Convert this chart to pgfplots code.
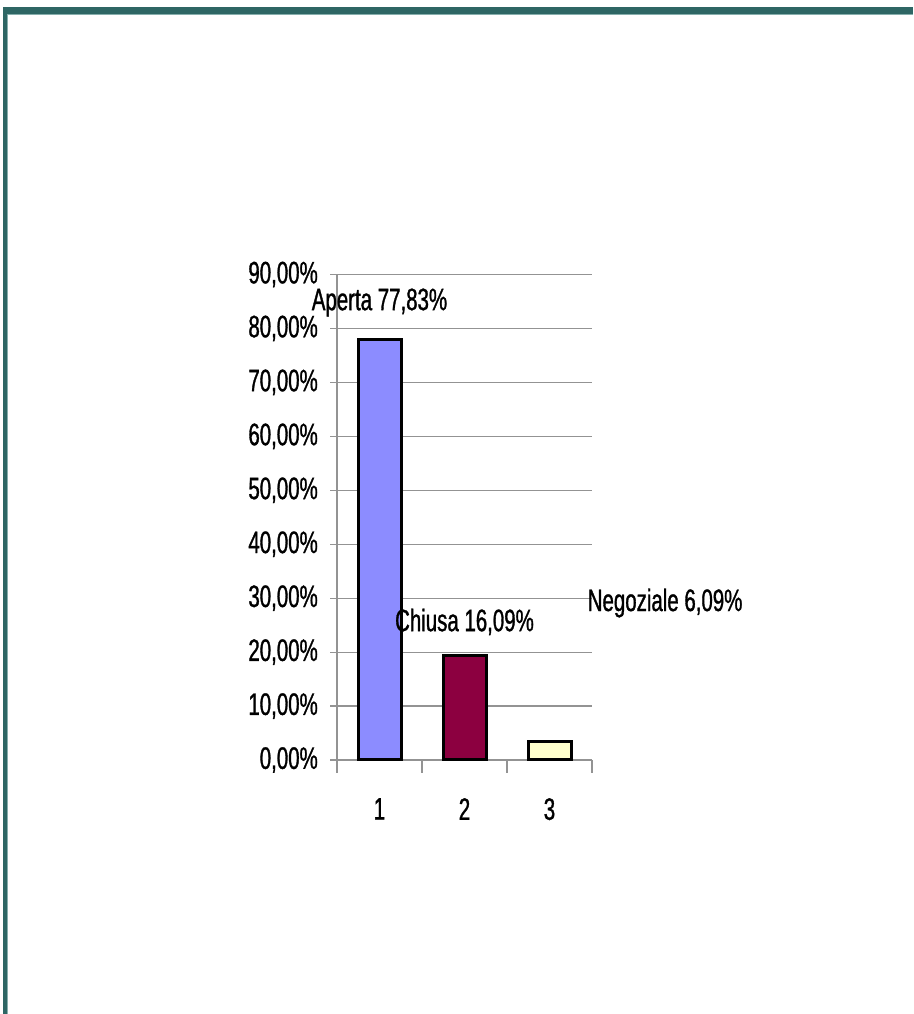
\documentclass[border=0pt]{standalone}
\usepackage{fontspec}
\setmainfont{Liberation Sans}[FakeStretch=0.66, FakeBold=1]
\usepackage{pgfplots}
\pgfplotsset{compat=1.18}
\definecolor{frame}{HTML}{2E6664}
\definecolor{framelight}{HTML}{86AEAC}
\definecolor{bara}{HTML}{8C8CFF}
\definecolor{barb}{HTML}{8C0040}
\definecolor{barc}{HTML}{FFFFCC}
\begin{document}
\begin{tikzpicture}[x=1pt,y=1pt]
\useasboundingbox (0pt,0pt) rectangle (913pt,1014pt);
\fill[white] (0pt,0pt) rectangle (913pt,1014pt);
% frame
\fill[frame] (2.5pt,0pt) rectangle (6.5pt,1006pt);
\fill[frame] (2.5pt,1000pt) rectangle (913pt,1006.5pt);
\fill[framelight] (6.5pt,0pt) rectangle (7.5pt,1000pt);
\fill[framelight] (6.5pt,999pt) rectangle (913pt,1000pt);
\begin{axis}[
  at={(337pt,254pt)}, anchor=south west,
  scale only axis, width=255pt, height=485.5pt,
  xmin=0.5, xmax=3.5, ymin=0, ymax=90,
  clip=false,
  axis lines=left,
  axis line style={draw=gray!85, line width=1.2pt, -},
  ymajorgrids, grid style={draw=gray!85, line width=1.2pt},
  tick align=outside,
  major tick length=13pt,
  tick style={draw=gray!85, line width=1.2pt},
  ytick={0,10,...,90},
  yticklabels={{0,00\%},{10,00\%},{20,00\%},{30,00\%},{40,00\%},{50,00\%},{60,00\%},{70,00\%},{80,00\%},{90,00\%}},
  ytick style={xshift=6pt},
  yticklabel style={font=\fontsize{31}{36}\selectfont, anchor=east, inner sep=0pt, xshift=-6pt},
  xtick={0.5,1.5,2.5,3.5},
  xticklabels={},
  extra x ticks={1,2,3},
  extra x tick labels={1,2,3},
  extra x tick style={major tick length=0pt, tick style={draw=none}},
  xticklabel style={font=\fontsize{31}{36}\selectfont, anchor=north, inner sep=0pt, yshift=-38pt},
  ybar, bar width=43pt,
]
\addplot[fill=bara, draw=black, line width=3pt, bar shift=0pt] coordinates {(1,77.9)};
\addplot[fill=barb, draw=black, line width=3pt, bar shift=0pt] coordinates {(2,19.3)};
\addplot[fill=barc, draw=black, line width=3pt, bar shift=0pt] coordinates {(3,3.5)};
\node[font=\fontsize{31}{36}\selectfont, inner sep=0pt] at (axis cs:1,84.8) {Aperta 77,83\%};
\node[font=\fontsize{31}{36}\selectfont, inner sep=0pt] at (axis cs:2,25.6) {Chiusa 16,09\%};
\node[font=\fontsize{31}{36}\selectfont, inner sep=0pt] at (axis cs:4.36,29.1) {Negoziale 6,09\%};
\end{axis}
\end{tikzpicture}
\end{document}
